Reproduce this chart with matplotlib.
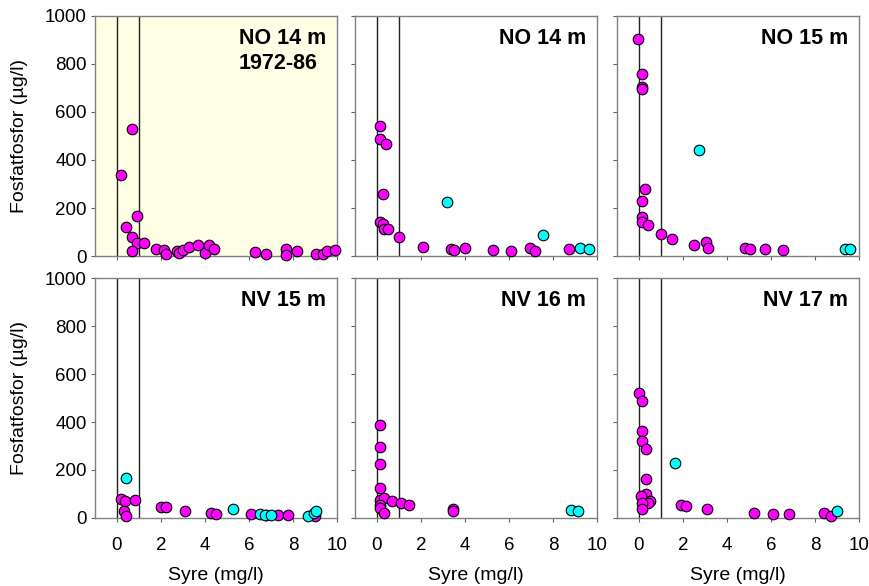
import matplotlib
matplotlib.use("Agg")
import matplotlib.pyplot as plt

plt.rcParams['font.family'] = ['Liberation Sans', 'DejaVu Sans']

# panel titles
titles = ["NO 14 m\n1972-86", "NO 14 m", "NO 15 m", "NV 15 m", "NV 16 m", "NV 17 m"]

# oxygen (mg/l) and phosphate (ug/l), magenta series
p1_x = [0.20, 0.70, 0.39, 0.91, 0.70, 0.91, 1.21, 0.70, 1.79, 2.12, 2.21, 2.73, 2.82, 3.0,
        3.27, 3.68, 4.0, 4.18, 4.39, 6.29, 6.79, 7.70, 7.70, 8.18, 9.06, 9.36, 9.55, 9.89]
p1_y = [339, 529, 122, 167, 81, 53, 53, 19, 29, 25, 8, 22, 14, 25,
        36, 47, 11, 44, 31, 18, 8, 28, 3, 19, 7, 7, 22, 25]

p2_x = [0.15, 0.15, 0.39, 0.27, 0.15, 0.27, 0.30, 0.52, 1.0, 2.09, 3.38, 3.48, 3.98,
        5.27, 6.08, 6.97, 7.18, 8.73]
p2_y = [542, 486, 467, 257, 142, 133, 114, 114, 78, 39, 28, 25, 33,
        25, 19, 33, 19, 28]
p2_cx = [3.18, 7.55, 9.24, 9.64]
p2_cy = [226, 88, 33, 28]

p3_x = [-0.06, 0.12, 0.12, 0.12, 0.28, 0.12, 0.12, 0.12, 0.40, 1.0, 1.48, 2.51, 3.03,
        3.12, 4.82, 5.06, 5.74, 6.55]
p3_y = [903, 757, 706, 694, 278, 228, 164, 142, 131, 92, 69, 47, 57,
        35, 32, 29, 28, 25]
p3_cx = [2.71, 9.38, 9.58]
p3_cy = [442, 31, 28]

p4_x = [0.17, 0.35, 0.30, 0.42, 0.80, 1.98, 2.21, 3.11, 4.29, 4.48, 6.08, 6.79, 7.32, 7.77, 8.98]
p4_y = [81, 69, 29, 7, 74, 46, 44, 28, 22, 18, 17, 11, 11, 11, 8]
p4_cx = [0.42, 5.27, 6.48, 6.71, 7.0, 8.68, 8.95, 9.06]
p4_cy = [167, 39, 15, 11, 14, 8, 22, 29]

p5_x = [0.15, 0.15, 0.15, 0.15, 0.15, 0.32, 0.15, 0.15, 0.32, 0.70, 1.11, 1.44, 3.44, 3.44]
p5_y = [386, 297, 224, 124, 74, 83, 53, 42, 22, 71, 61, 56, 39, 31]
p5_cx = [8.81, 9.13]
p5_cy = [32, 29]

p6_x = [0.0, 0.15, 0.15, 0.15, 0.32, 0.32, 0.32, 0.11, 0.52, 0.41, 0.15, 0.15, 1.89, 2.12,
        3.10, 5.21, 6.11, 6.82, 8.43, 8.72]
p6_y = [521, 486, 364, 322, 288, 163, 100, 90, 69, 64, 64, 39, 54, 50,
        38, 22, 17, 15, 22, 10]
p6_cx = [1.62, 9.02]
p6_cy = [231, 29]

magenta = [(p1_x, p1_y), (p2_x, p2_y), (p3_x, p3_y), (p4_x, p4_y), (p5_x, p5_y), (p6_x, p6_y)]
cyan = [([], []), (p2_cx, p2_cy), (p3_cx, p3_cy), (p4_cx, p4_cy), (p5_cx, p5_cy), (p6_cx, p6_cy)]

fig = plt.figure(figsize=(8.7, 5.86), dpi=100)

lefts = [95, 355, 617]
bottoms = [256, 518]
W, H = 242, 240

for i in range(6):
    row, col = divmod(i, 3)
    ax = fig.add_axes([lefts[col] / 870, 1 - bottoms[row] / 586, W / 870, H / 586])
    if i == 0:
        ax.set_facecolor('#ffffe6')

    ax.axvline(0, color='#202020', lw=1, zorder=1)
    ax.axvline(1, color='#202020', lw=1, zorder=1)

    mx, my = magenta[i]
    ax.scatter(mx, my, s=58, c='#ff00ff', edgecolors='black', linewidths=0.8,
               zorder=3, clip_on=False)
    cx, cy = cyan[i]
    if cx:
        ax.scatter(cx, cy, s=58, c='#00ffff', edgecolors='black', linewidths=0.8,
                   zorder=3, clip_on=False)

    ax.set_xlim(-1, 10)
    ax.set_ylim(0, 1000)
    ax.set_xticks(range(0, 11, 2))
    ax.set_yticks(range(0, 1001, 200))
    ax.tick_params(direction='out', length=3, width=0.8, color='#606060',
                   labelsize=13.5, pad=3)
    ax.tick_params(axis='x', pad=11)
    for s in ax.spines.values():
        s.set_color('#808080')
        s.set_linewidth(1)

    ax.text(0.955, 0.948, titles[i], transform=ax.transAxes, ha='right', va='top',
            multialignment='left', fontsize=15.5, fontweight='bold', linespacing=1.2)

    if col == 0:
        ax.set_ylabel("Fosfatfosfor (µg/l)", fontsize=14)
        ax.yaxis.set_label_coords(-0.275, 0.5)
    else:
        ax.set_yticklabels([])
    if row == 1:
        ax.set_xlabel("Syre (mg/l)", fontsize=14, labelpad=9)
    else:
        ax.set_xticklabels([])

fig.savefig("out.png", dpi=100)
